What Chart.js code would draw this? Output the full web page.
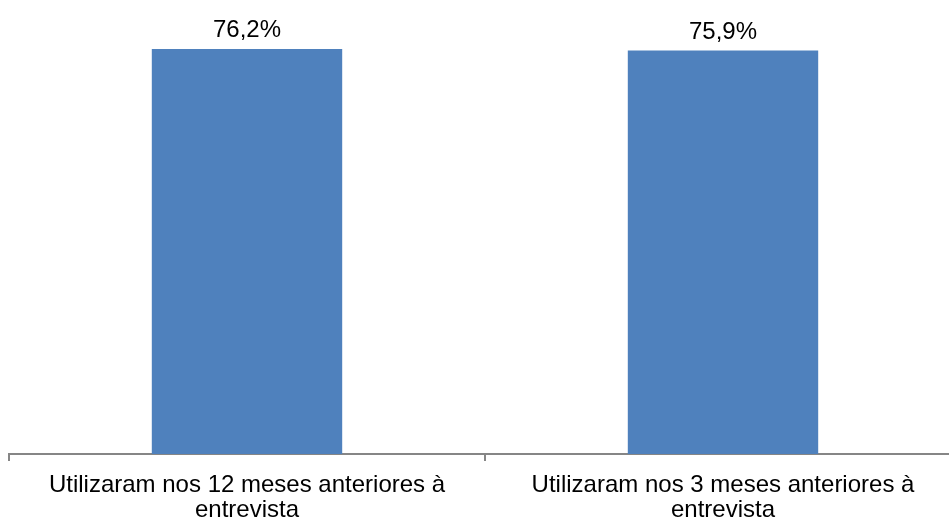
<!DOCTYPE html>
<html>
<head>
<meta charset="utf-8">
<script src="https://cdn.jsdelivr.net/npm/chart.js@4"></script>
<style>
    html, body { margin: 0; padding: 0; background: #fff; overflow: hidden; }
    #wrap { width: 949px; height: 520px; overflow: hidden; }
</style>
</head>
<body>
<div id="wrap"><canvas id="chart" width="962" height="520"></canvas></div>
<script>
const categories = [
    ["Utilizaram nos 12 meses anteriores à", "entrevista"],
    ["Utilizaram nos 3 meses anteriores à", "entrevista"],
];
const values = [76.2, 75.9];

const ctx = document.getElementById("chart").getContext("2d");

new Chart(ctx, {
    type: "bar",
    data: {
        labels: categories,
        datasets: [
            {
                data: values,
                backgroundColor: "#4F81BD",
                borderWidth: 0,
                categoryPercentage: 1,
                barPercentage: 0.4,
            },
        ],
    },
    options: {
        responsive: false,
        animation: false,
        layout: {
            padding: { left: 9, right: 1, top: 0, bottom: 0 },
        },
        plugins: {
            legend: { display: false },
            tooltip: { enabled: false },
        },
        scales: {
            x: {
                offset: true,
                afterFit: (scale) => {
                    scale.height = 66;
                },
                grid: {
                    offset: true,
                    drawOnChartArea: false,
                    color: "#868686",
                    lineWidth: 2,
                    tickLength: 7,
                },
                border: { color: "#868686", width: 2 },
                ticks: {
                    color: "#000",
                    padding: 12,
                    maxRotation: 0,
                    font: { family: "Liberation Sans, Arial", size: 24, lineHeight: 1.05 },
                },
            },
            y: {
                display: false,
                min: 0,
                max: 85.4,
            },
        },
    },
    plugins: [
        {
            id: "valueLabels",
            afterDatasetsDraw: (chart) => {
                const c = chart.ctx;
                chart.data.datasets.forEach((dataset, i) => {
                    const meta = chart.getDatasetMeta(i);
                    meta.data.forEach((bar, index) => {
                        const value = dataset.data[index];
                        c.save();
                        c.fillStyle = "#000";
                        c.textAlign = "center";
                        c.textBaseline = "alphabetic";
                        c.font = "24px Liberation Sans, Arial";
                        c.fillText(value.toFixed(1).replace(".", ",") + "%", bar.x, bar.y - 12);
                        c.restore();
                    });
                });
            },
        },
    ],
});
</script>
</body>
</html>
